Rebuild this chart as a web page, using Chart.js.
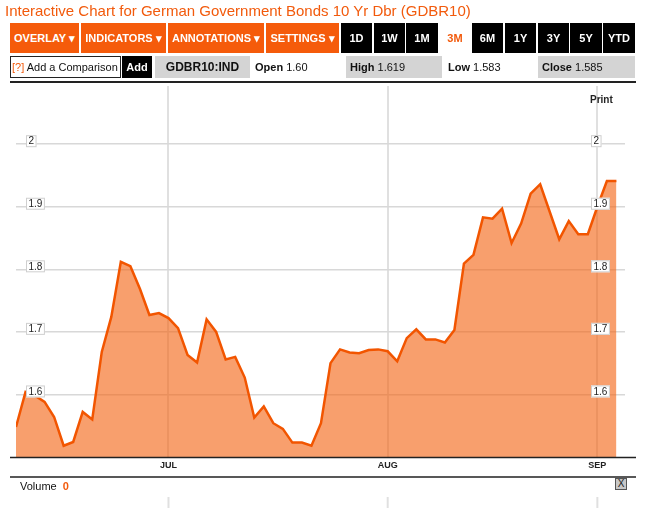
<!DOCTYPE html>
<html>
<head>
<meta charset="utf-8">
<script src="https://cdn.jsdelivr.net/npm/chart.js@4.4.0/dist/chart.umd.min.js"></script>
<style>
    body { margin: 0; background: #fff; font-family: "Liberation Sans", Arial, sans-serif; }
    #wrap { position: relative; width: 653px; height: 508px; overflow: hidden; }
    #chart { position: absolute; left: 0; top: 0; }
    .abs { position: absolute; white-space: nowrap; }
    .title { left: 5px; top: 2px; font-size: 15px; color: #f25a0c; }
    .btn { top: 23px; height: 30px; line-height: 30px; font-size: 11px; font-weight: bold; color: #fff; text-align: center; }
    .orange { background: #f55b0b; }
    .black { background: #000; }
    .active { background: #fff; color: #f25a0c; }
    .row2 { top: 56px; height: 22px; line-height: 22px; font-size: 11px; color: #111; }
    .gray { background: #d4d4d4; }
</style>
</head>
<body>
<div id="wrap">
    <canvas id="chart" width="653" height="508"></canvas>

    <div class="abs title">Interactive Chart for German Government Bonds 10 Yr Dbr (GDBR10)</div>

    <div class="abs btn orange" style="left:10px;width:69px;">OVERLAY &#9662;</div>
    <div class="abs btn orange" style="left:81px;width:85px;">INDICATORS &#9662;</div>
    <div class="abs btn orange" style="left:168px;width:96px;">ANNOTATIONS &#9662;</div>
    <div class="abs btn orange" style="left:266px;width:73px;">SETTINGS &#9662;</div>
    <div class="abs btn black" style="left:341px;width:31px;">1D</div>
    <div class="abs btn black" style="left:374px;width:31px;">1W</div>
    <div class="abs btn black" style="left:406px;width:32px;">1M</div>
    <div class="abs btn active" style="left:439px;width:32px;">3M</div>
    <div class="abs btn black" style="left:472px;width:31px;">6M</div>
    <div class="abs btn black" style="left:505px;width:31px;">1Y</div>
    <div class="abs btn black" style="left:538px;width:31px;">3Y</div>
    <div class="abs btn black" style="left:570px;width:32px;">5Y</div>
    <div class="abs btn black" style="left:603px;width:32px;">YTD</div>

    <div class="abs row2" style="left:10px;width:108px;height:20px;line-height:20px;border:1px solid #222;padding-left:1px;">
        <span style="color:#f25a0c;">[?]</span> Add a Comparison</div>
    <div class="abs row2" style="left:122px;width:30px;background:#000;color:#fff;font-weight:bold;text-align:center;">Add</div>
    <div class="abs row2 gray" style="left:155px;width:95px;font-weight:bold;text-align:center;font-size:12px;">GDBR10:IND</div>
    <div class="abs row2" style="left:255px;"><b>Open</b> 1.60</div>
    <div class="abs row2 gray" style="left:346px;width:92px;padding-left:4px;"><b>High</b> 1.619</div>
    <div class="abs row2" style="left:448px;"><b>Low</b> 1.583</div>
    <div class="abs row2 gray" style="left:538px;width:93px;padding-left:4px;"><b>Close</b> 1.585</div>

    <div class="abs" style="left:10px;top:81px;width:626px;height:2px;background:#222;"></div>

    <div class="abs" style="left:590px;top:94px;font-size:10px;font-weight:bold;color:#222;">Print</div>

    <div class="abs" style="left:20px;top:480px;font-size:11px;color:#111;">Volume <b style="color:#f25a0c;margin-left:3px;">0</b></div>
    <div class="abs" style="left:615px;top:478px;width:10px;height:10px;line-height:10px;background:#c8c8c8;border:1px solid #555;font-size:10px;text-align:center;color:#222;">X</div>
</div>

<script>
// daily 10y yields, one per trading day
const yields = [
    1.548, 1.604, 1.598, 1.588, 1.564, 1.518, 1.524, 1.572, 1.560, 1.668,
    1.724, 1.812, 1.805, 1.769, 1.727, 1.730, 1.722, 1.706, 1.663, 1.651,
    1.720, 1.700, 1.656, 1.660, 1.627, 1.563, 1.581, 1.554, 1.545, 1.523,
    1.523, 1.518, 1.554, 1.650, 1.672, 1.667, 1.666, 1.671, 1.672, 1.669,
    1.653, 1.690, 1.704, 1.688, 1.688, 1.683, 1.703, 1.809, 1.823, 1.883,
    1.881, 1.897, 1.842, 1.873, 1.921, 1.936, 1.892, 1.848, 1.877, 1.856,
    1.856, 1.900, 1.941, 1.941
];
// trading-day index where each month starts
const monthIdx = [16, 39, 61];
const monthLabels = ['JUL', 'AUG', 'SEP'];
const yTicks = [1.6, 1.7, 1.8, 1.9, 2.0];
const yTickLabels = ['1.6', '1.7', '1.8', '1.9', '2'];

const decor = {
    id: 'decor',
    afterDraw(chart) {
        const ctx = chart.ctx;
        const area = chart.chartArea;
        const xs = chart.scales.x;
        const ys = chart.scales.y;
        ctx.save();

        // axis line and volume pane divider
        ctx.strokeStyle = '#222';
        ctx.lineWidth = 1.5;
        ctx.beginPath();
        ctx.moveTo(10, area.bottom + 0.5);
        ctx.lineTo(636, area.bottom + 0.5);
        ctx.moveTo(10, 477);
        ctx.lineTo(636, 477);
        ctx.stroke();

        // top of the volume pane grid
        ctx.strokeStyle = '#e0e0e0';
        ctx.lineWidth = 2;
        xs.ticks.forEach(t => {
            const px = xs.getPixelForValue(t.value);
            ctx.beginPath();
            ctx.moveTo(px, 497);
            ctx.lineTo(px, 508);
            ctx.stroke();
        });

        // boxed value labels on both sides
        ctx.font = '10px "Liberation Sans", Arial, sans-serif';
        ctx.textBaseline = 'middle';
        ctx.textAlign = 'left';
        ys.ticks.forEach((t, i) => {
            const py = ys.getPixelForValue(t.value);
            const txt = yTickLabels[i];
            const w = ctx.measureText(txt).width + 5;
            [26, 591].forEach(bx => {
                ctx.fillStyle = '#fff';
                ctx.fillRect(bx, py - 9, w, 12);
                ctx.strokeStyle = '#cfcfcf';
                ctx.lineWidth = 1;
                ctx.strokeRect(bx + 0.5, py - 8.5, w - 1, 11);
                ctx.fillStyle = '#222';
                ctx.fillText(txt, bx + 2.5, py - 2.5);
            });
        });
        ctx.restore();
    }
};

const ctx = document.getElementById('chart').getContext('2d');

const chart = new Chart(ctx, {
    type: 'line',
    data: {
        datasets: [{
            data: yields.map((v, i) => ({ x: i, y: v })),
            borderColor: '#f25500',
            borderWidth: 2.5,
            backgroundColor: 'rgba(243, 100, 20, 0.62)',
            fill: 'start',
            tension: 0,
            pointRadius: 0
        }]
    },
    options: {
        responsive: false,
        animation: false,
        layout: {
            autoPadding: false,
            padding: { left: 16, right: 28, top: 86, bottom: 31 }
        },
        scales: {
            x: {
                type: 'linear',
                min: 0,
                max: 63.9,
                afterBuildTicks: scale => {
                    scale.ticks = monthIdx.map(v => ({ value: v }));
                },
                afterFit: scale => { scale.height = 20; },
                ticks: {
                    padding: 3,
                    color: '#222',
                    font: { family: '"Liberation Sans", Arial, sans-serif', size: 9, weight: 'bold' },
                    maxRotation: 0,
                    callback: value => monthLabels[monthIdx.indexOf(value)]
                },
                grid: { color: '#e0e0e0', lineWidth: 2, drawTicks: false },
                border: { display: false }
            },
            y: {
                min: 1.5,
                max: 2.093,
                afterBuildTicks: scale => {
                    scale.ticks = yTicks.map(v => ({ value: v }));
                },
                afterFit: scale => { scale.width = 0; },
                ticks: { display: false },
                grid: { color: '#d8d8d8', lineWidth: 1.5, drawTicks: false },
                border: { display: false }
            }
        },
        plugins: {
            legend: { display: false },
            tooltip: { enabled: false }
        }
    },
    plugins: [decor]
});
</script>
</body>
</html>
